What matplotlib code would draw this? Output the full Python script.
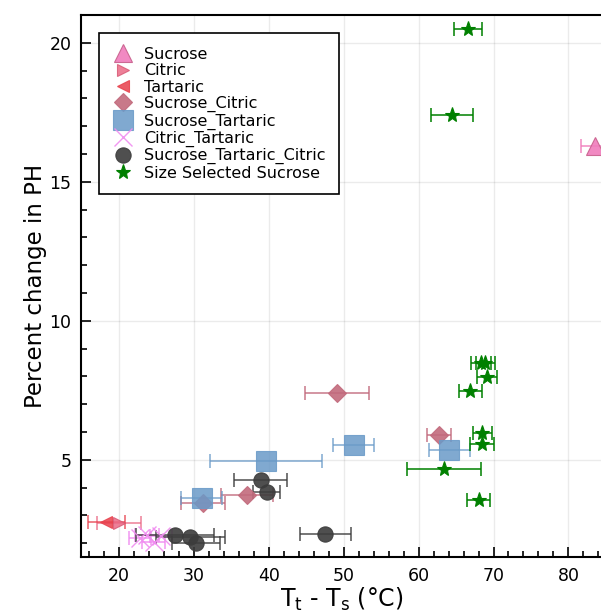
import matplotlib

matplotlib.use("Agg")
import matplotlib.pyplot as plt
from matplotlib.lines import Line2D
from matplotlib.ticker import MultipleLocator

plt.rcParams["font.family"] = ["DejaVu Sans"]
plt.rcParams["mathtext.default"] = "regular"

# values (x = Tt - Ts, y = percent change in pH)
sucrose_x = [83.5]
sucrose_y = [16.3]
sucrose_err = [1.8]

citric_x = [20.0]
citric_y = [2.71]
citric_err = [2.9]

tartaric_x = [18.3]
tartaric_y = [2.75]
tartaric_err = [2.5]

suc_cit_x = [31.2, 37.1, 49.1, 62.7]
suc_cit_y = [3.46, 3.74, 7.39, 5.90]
suc_cit_err = [2.9, 3.5, 4.3, 1.6]

suc_tar_x = [31.0, 39.6, 51.3, 64.1]
suc_tar_y = [3.64, 4.96, 5.54, 5.36]
suc_tar_err = [2.7, 7.5, 2.7, 2.7]

cit_tar_x = [22.8, 23.7, 24.6, 25.6]
cit_tar_y = [2.20, 2.30, 2.05, 2.25]
cit_tar_err = [1.5, 1.6, 1.5, 1.5]

stc_x = [27.4, 29.5, 30.2, 38.9, 39.7, 47.5]
stc_y = [2.28, 2.22, 2.01, 4.27, 3.84, 2.32]
stc_err = [5.2, 4.6, 3.2, 3.5, 1.8, 3.4]

sss_x = [66.6, 64.4, 68.3, 68.9, 69.1, 66.9, 68.5, 68.4, 63.4, 68.0]
sss_y = [20.5, 17.4, 8.48, 8.48, 7.97, 7.49, 5.95, 5.57, 4.66, 3.55]
sss_err = [1.9, 2.8, 1.3, 1.3, 1.3, 1.5, 1.3, 1.6, 4.9, 1.5]

series = [
    ("Sucrose", sucrose_x, sucrose_y, sucrose_err, "^", 13, "#f07cbc", "#c8608c", 0.9),
    ("Citric", citric_x, citric_y, citric_err, ">", 9, "#ea6a86", "#d85a76", 0.85),
    ("Tartaric", tartaric_x, tartaric_y, tartaric_err, "<", 9, "#e8404c", "#e8404c", 0.85),
    ("Sucrose_Citric", suc_cit_x, suc_cit_y, suc_cit_err, "D", 9, "#c26a7c", "#c26a7c", 0.9),
    ("Sucrose_Tartaric", suc_tar_x, suc_tar_y, suc_tar_err, "s", 14, "#6a9ac8", "#6a9ac8", 0.85),
    ("Citric_Tartaric", cit_tar_x, cit_tar_y, cit_tar_err, "x", 13, "#f08cf0", "#f08cf0", 0.9),
    ("Sucrose_Tartaric_Citric", stc_x, stc_y, stc_err, "o", 11, "#3c3c3c", "#3c3c3c", 0.9),
    ("Size Selected Sucrose", sss_x, sss_y, sss_err, "*", 11, "#008000", "#008000", 1.0),
]


def main() -> None:
    fig = plt.figure(figsize=(6.01, 6.14), dpi=100)
    ax = fig.add_axes([0.1348, 0.0928, 0.8670, 0.8828])

    handles = []
    for label, xs, ys, errs, marker, ms, face, edge, alpha in series:
        ax.errorbar(
            xs,
            ys,
            xerr=errs,
            fmt="none",
            ecolor=face,
            elinewidth=1.3,
            capsize=5,
            capthick=1.3,
            alpha=alpha * 0.85,
            zorder=2,
        )
        if marker == "x":
            ax.plot(xs, ys, linestyle="none", marker=marker, ms=ms,
                    color=face, mew=1.0, alpha=alpha, zorder=3)
        else:
            ax.plot(xs, ys, linestyle="none", marker=marker, ms=ms,
                    markerfacecolor=face, markeredgecolor=edge, mew=0.8,
                    alpha=alpha, zorder=3)
        handles.append(
            Line2D([], [], linestyle="none", marker=marker, ms=ms,
                   markerfacecolor=face, markeredgecolor=edge if marker != "x" else face,
                   color=face, mew=1.0 if marker == "x" else 0.8,
                   alpha=alpha, label=label)
        )

    ax.set_xlim(14.9, 84.5)
    ax.set_ylim(1.5, 21.0)
    ax.xaxis.set_major_locator(MultipleLocator(10))
    ax.xaxis.set_minor_locator(MultipleLocator(2))
    ax.yaxis.set_major_locator(MultipleLocator(5))
    ax.yaxis.set_minor_locator(MultipleLocator(1))
    ax.tick_params(which="both", direction="in", top=False, right=False,
                   labelsize=12.5, width=1.2, colors="black")
    ax.tick_params(which="major", length=7, pad=7)
    ax.tick_params(which="minor", length=4)
    ax.grid(True, which="major", color="black", alpha=0.08, linewidth=1.0)
    for side in ("left", "bottom", "top"):
        ax.spines[side].set_linewidth(1.5)
    ax.spines["right"].set_visible(False)

    ax.set_xlabel(r"T$_\mathrm{t}$ - T$_\mathrm{s}$ (°C)", fontsize=17, labelpad=1)
    ax.set_ylabel("Percent change in PH", fontsize=16.5, labelpad=2)

    leg = ax.legend(
        handles=handles,
        loc="upper left",
        bbox_to_anchor=(0.034, 0.966),
        fontsize=11.5,
        frameon=True,
        fancybox=False,
        edgecolor="black",
        handlelength=1.4,
        handletextpad=0.6,
        labelspacing=0.08,
        borderpad=0.85,
        borderaxespad=0.0,
    )
    leg.get_frame().set_linewidth(1.2)
    leg.get_frame().set_alpha(1.0)

    fig.savefig("out.png", dpi=100)
    plt.close(fig)


if __name__ == "__main__":
    main()
